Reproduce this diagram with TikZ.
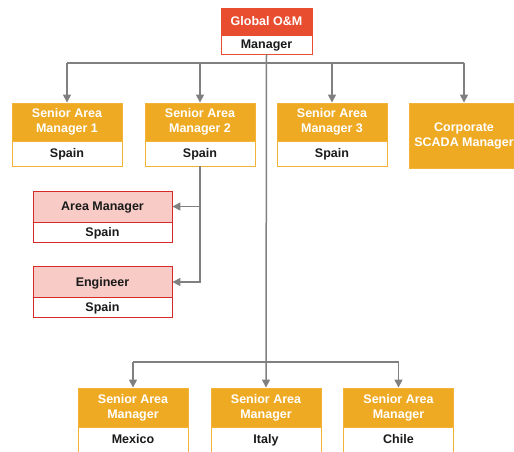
\documentclass[tikz,border=0pt]{standalone}
\usepackage{fontspec}
\setmainfont{Liberation Sans}
\usetikzlibrary{arrows.meta}
\definecolor{orng}{HTML}{EFAA24}
\definecolor{orngb}{HTML}{F2B338}
\definecolor{redh}{HTML}{E84D2F}
\definecolor{redb}{HTML}{D42A2A}
\definecolor{pinkf}{HTML}{F8CBC6}
\definecolor{greyl}{HTML}{808080}
\definecolor{txt}{HTML}{1A1A1A}
\tikzset{
  base/.style={rectangle, inner sep=0pt, align=center, font=\fontsize{12.5}{15}\selectfont\bfseries, line width=0.9pt},
  one/.style={text height=10pt, text depth=1.6pt},
  ohdr/.style={base, fill=orng, draw=orngb, text=white, minimum width=110pt, minimum height=38pt},
  obody/.style={base, one, fill=white, draw=orngb, text=txt, minimum width=110pt, minimum height=25pt},
  rhdr/.style={base, one, fill=redh, draw=redh, text=white, minimum width=91pt, minimum height=27pt},
  rbody/.style={base, one, fill=white, draw=redh, text=txt, minimum width=91pt, minimum height=19pt},
  phdr/.style={base, one, fill=pinkf, draw=redb, text=txt, minimum width=139pt, minimum height=31pt},
  pbody/.style={base, one, fill=white, draw=redb, text=txt, minimum width=139pt, minimum height=20pt},
  line/.style={draw=greyl, line width=1.5pt},
  conn/.style={line, -{Triangle[length=8pt,width=8pt]}}
}
\begin{document}
\begin{tikzpicture}[x=1pt,y=-1pt]
\path[use as bounding box] (0,0) rectangle (514,451);
\clip (0,0) rectangle (514,451);
% top
\node[rhdr] (gh) at (266.5,21.5) {Global O\&M};
\node[rbody] (gb) at (266.5,44.5) {Manager};
% row 1
\node[ohdr] (s1h) at (67,122) {Senior Area\\Manager 1};
\node[obody] (s1b) at (67,153.5) {Spain};
\node[ohdr] (s2h) at (200,122) {Senior Area\\Manager 2};
\node[obody] (s2b) at (200,153.5) {Spain};
\node[ohdr] (s3h) at (332,122) {Senior Area\\Manager 3};
\node[obody] (s3b) at (332,153.5) {Spain};
\node[ohdr, minimum height=65pt] (cs) at (464,135.5) {Corporate\\SCADA Manager};
% pink
\node[phdr] (ah) at (102.5,206.5) {Area Manager};
\node[pbody] (ab) at (102.5,232) {Spain};
\node[phdr] (eh) at (102.5,282) {Engineer};
\node[pbody] (eb) at (102.5,307) {Spain};
% bottom row
\node[ohdr, minimum height=39pt] (mh) at (133,407.5) {Senior Area\\Manager};
\node[obody] (mb) at (133,439.5) {Mexico};
\node[ohdr, minimum height=39pt] (ih) at (266,407.5) {Senior Area\\Manager};
\node[obody] (ib) at (266,439.5) {Italy};
\node[ohdr, minimum height=39pt] (chh) at (398.5,407.5) {Senior Area\\Manager};
\node[obody] (chb) at (398.5,439.5) {Chile};
% connectors
\coordinate (tb) at (266,63);
\coordinate (bb) at (266,362);
\draw[line] (tb -| s1h.north) -- (tb -| cs.north);
\draw[conn] (gb.south) -- (ih.north);
\draw[conn] (tb -| s1h.north) -- (s1h.north);
\draw[conn] (tb -| s2h.north) -- (s2h.north);
\draw[conn] (tb -| s3h.north) -- (s3h.north);
\draw[conn] (tb -| cs.north) -- (cs.north);
\draw[line] (bb -| mh.north) -- (bb -| chh.north);
\draw[conn] (bb -| mh.north) -- (mh.north);
\draw[conn] (bb -| chh.north) -- (chh.north);
\draw[conn] (s2b.south) |- (eh.east);
\draw[conn] (s2b.south |- ah.east) -- (ah.east);
\end{tikzpicture}
\end{document}
